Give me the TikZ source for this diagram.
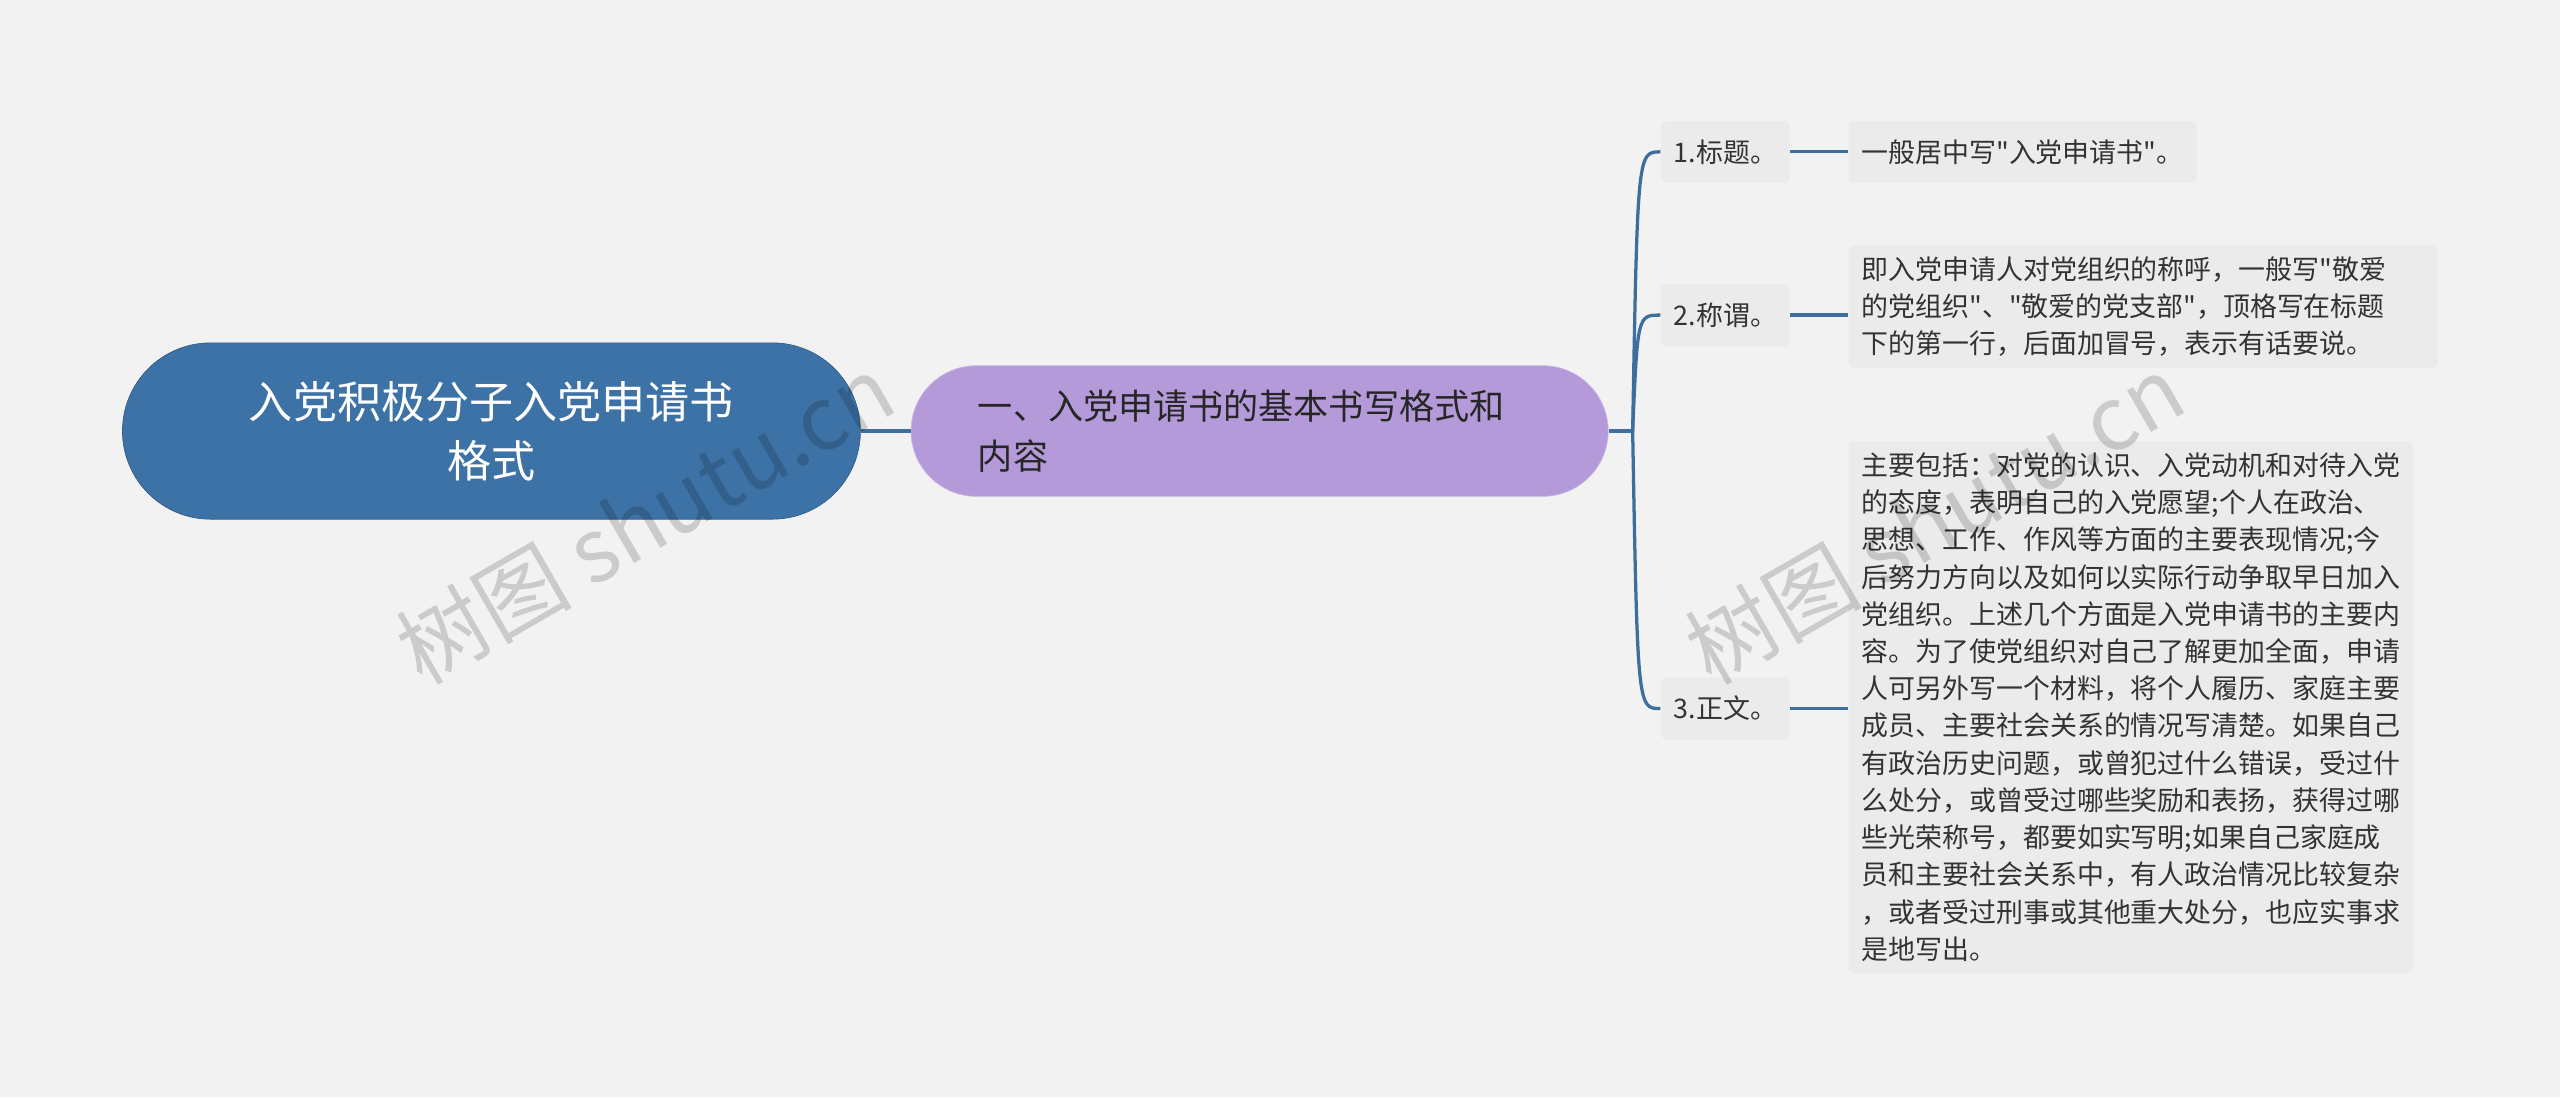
\documentclass[tikz,border=0pt]{standalone}
\usepackage{fontspec}
\setmainfont{Noto Sans CJK SC}
\newfontfamily\wmfont{Noto Sans CJK SC}
\newcommand\dq{{\wmfont\char34}}
\begin{document}
\begin{tikzpicture}[x=1pt,y=-1pt,
  lbl/.style={fill=black!8,rounded corners=4pt,minimum height=38pt,inner xsep=8pt,font=\fontsize{16.5}{22.8}\selectfont,text=black!80},
  leaf/.style={fill=black!8,rounded corners=4pt,inner xsep=8pt,inner ysep=7pt,font=\fontsize{16.5}{22.8}\selectfont,text=black!80,align=left,anchor=north west},
  con/.style={draw=conc,line width=2pt},
  wm/.style={rotate=30,text=black,opacity=0.16,font=\wmfont\fontsize{54}{54}\selectfont}]
\definecolor{bgc}{HTML}{F2F2F2}
\definecolor{rootc}{HTML}{3D72A6}
\definecolor{mainc}{HTML}{B49AD9}
\definecolor{conc}{HTML}{3D6F9E}
\fill[bgc] (0,0) rectangle (1568,672);
\useasboundingbox (0,0) rectangle (1568,672);
\node[fill=rootc,draw=rootc!80!black,rounded corners=54pt,minimum width=452pt,minimum height=108pt,text=white,align=center,font=\fontsize{27}{36}\selectfont] (root) at (301,264) {入党积极分子入党申请书\\格式};
\node[fill=mainc,draw=mainc!70!white,rounded corners=40pt,minimum width=427pt,minimum height=80pt,text=black!85,align=left,font=\fontsize{21.5}{31}\selectfont,text width=345pt] (main) at (771.5,264) {一、入党申请书的基本书写格式和\\内容};
\node[lbl,anchor=west] (l1) at (1017,93) {1.标题。};
\node[lbl,anchor=west] (l2) at (1017,193) {2.称谓。};
\node[lbl,anchor=west] (l3) at (1017,434) {3.正文。};
\node[leaf,anchor=west,minimum height=38pt] (f1) at (1132,93) {一般居中写\dq 入党申请书\dq 。};
\node[leaf,text width=345pt] (f2) at (1132,150) {即入党申请人对党组织的称呼，一般写\dq 敬爱\\的党组织\dq 、\dq 敬爱的党支部\dq ，顶格写在标题\\下的第一行，后面加冒号，表示有话要说。};
\node[leaf] (f3) at (1132,270) {主要包括：对党的认识、入党动机和对待入党\\的态度，表明自己的入党愿望;个人在政治、\\思想、工作、作风等方面的主要表现情况;今\\后努力方向以及如何以实际行动争取早日加入\\党组织。上述几个方面是入党申请书的主要内\\容。为了使党组织对自己了解更加全面，申请\\人可另外写一个材料，将个人履历、家庭主要\\成员、主要社会关系的情况写清楚。如果自己\\有政治历史问题，或曾犯过什么错误，受过什\\么处分，或曾受过哪些奖励和表扬，获得过哪\\些光荣称号，都要如实写明;如果自己家庭成\\员和主要社会关系中，有人政治情况比较复杂\\，或者受过刑事或其他重大处分，也应实事求\\是地写出。};
\draw[con] (root.east) -- (main.west);
\coordinate (j) at (1000,264);
\draw[con] (main.east) -- (j);
\draw[con] (j) .. controls (1003,93) and (1003,93) .. (l1.west);
\draw[con] (j) .. controls (1003,193) and (1003,193) .. (l2.west);
\draw[con] (j) .. controls (1003,434) and (1003,434) .. (l3.west);
\draw[con] (l1.east) -- (f1.west);
\draw[con] (l2.east) -- (l2.east -| f2.west);
\draw[con] (l3.east) -- (l3.east -| f3.west);
\node[wm] (w1) at (395,318) {树图 shutu.cn};
\node[wm] (w2) at (1185,318) {树图 shutu.cn};
\end{tikzpicture}
\end{document}
